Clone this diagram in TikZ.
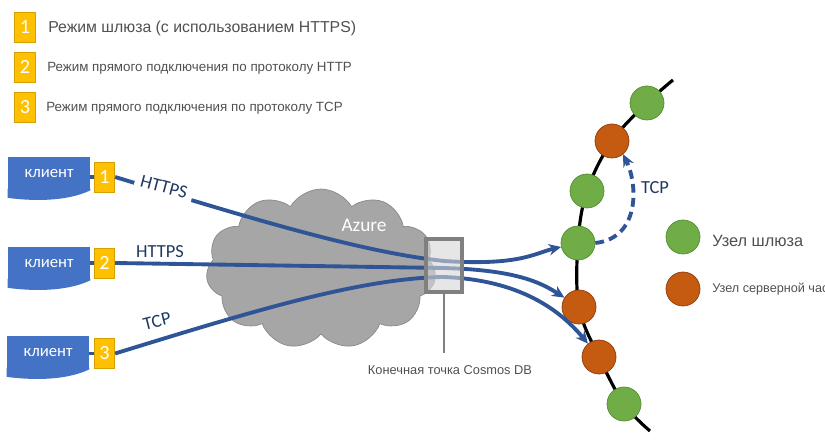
\documentclass[tikz,border=0pt]{standalone}
\usepackage{fontspec}
\setmainfont{Liberation Sans}
\newfontfamily\calibri{Carlito}
\usetikzlibrary{arrows.meta,positioning,shapes.symbols,backgrounds}
\definecolor{mlblue}{RGB}{68,114,196}
\definecolor{mlnavy}{RGB}{47,85,151}
\definecolor{mlink}{RGB}{31,56,100}
\definecolor{mlyellow}{RGB}{255,192,0}
\definecolor{mlyellowdk}{RGB}{214,160,0}
\definecolor{mlgreen}{RGB}{112,173,71}
\definecolor{mlgreendk}{RGB}{84,140,50}
\definecolor{mlrust}{RGB}{197,90,17}
\definecolor{mlrustdk}{RGB}{140,60,12}
\definecolor{mlcloud}{RGB}{166,166,166}
\definecolor{mlclouddk}{RGB}{137,137,137}
\definecolor{mlboxgray}{RGB}{128,128,128}
\definecolor{mllight}{RGB}{214,214,214}
\definecolor{mlgray}{RGB}{80,80,80}

\begin{document}
\begin{tikzpicture}[x=0.02cm,y=-0.02cm,
  numbox/.style={draw=mlyellowdk,fill=mlyellow,minimum width=0.41cm,minimum height=0.6cm,inner sep=0pt,text=white,font=\calibri\fontsize{11.5}{12}\selectfont},
  client/.style={rectangle,fill=mlblue,minimum width=1.64cm,minimum height=0.66cm,inner sep=0pt,text=white,font=\calibri\fontsize{9.5}{10}\selectfont},
  link/.style={draw=mlnavy,line width=2.2pt},
  linkarrow/.style={link,-{Stealth[length=7pt,width=6.5pt]}},
  gnode/.style={circle,fill=mlgreen,draw=mlgreendk,minimum size=0.68cm,inner sep=0pt},
  onode/.style={circle,fill=mlrust,draw=mlrustdk,minimum size=0.68cm,inner sep=0pt},
  proto/.style={font=\calibri\fontsize{10.5}{12}\selectfont,text=mlink},
  legtext/.style={anchor=west,text=mlgray,inner sep=0pt}]
  \useasboundingbox (0,0) rectangle (825,442);
  \clip (0,0) rectangle (825,442);
  % Legend of modes
  \node[numbox] (m1) at (25,27) {1};
  \node[numbox] (m2) at (25,67) {2};
  \node[numbox] (m3) at (25,107) {3};
  \node[legtext,font=\fontsize{9}{11}\selectfont] at (48,28) {Режим шлюза (с использованием HTTPS)};
  \node[legtext,font=\fontsize{7.6}{10}\selectfont] at (47,68) {Режим прямого подключения по протоколу HTTP};
  \node[legtext,font=\fontsize{7.6}{10}\selectfont] at (46,108) {Режим прямого подключения по протоколу TCP};
  % Clients (document shapes)
  \node[client] (c1) at (49,173.5) {клиент};
  \node[client] (c2) at (49,263.5) {клиент};
  \node[client] (c3) at (48,352.5) {клиент};
  \foreach \c in {c1,c2,c3}
    \fill[mlblue] ([yshift=1pt]\c.south east) -- (\c.south east) .. controls +(-25,12) and +(22,3) .. ([yshift=-0.15cm]\c.south west) -- ([yshift=1pt]\c.south west) -- cycle;
  \node[numbox] (n1) at (104.5,177) {1};
  \node[numbox] (n2) at (104.5,263) {2};
  \node[numbox] (n3) at (104.5,353.5) {3};
  \draw[link] (c1.east |- n1) -- (n1.west);
  \draw[link] (c2.east |- n2) -- (n2.west);
  \draw[link] (c3.east |- n3) -- (n3.west);
  % Azure cloud
  \node[cloud,cloud puffs=11,cloud puff arc=120,aspect=1.5,fill=mlcloud,draw=mlclouddk,minimum width=4.6cm,minimum height=3.2cm] (cloud) at (321,269) {};
  \node[font=\calibri\fontsize{11}{12}\selectfont,text=white] (azure) at (364,225) {Azure};
  % Ring of nodes
  \coordinate (rtop) at (673,80);
  \coordinate (rbot) at (650,431);
  \node[gnode] (g1) at (647,103) {};
  \node[onode] (o1) at (612,141) {};
  \node[gnode] (g2) at (587,191) {};
  \node[gnode] (g3) at (578,243) {};
  \node[onode] (o2) at (579,307) {};
  \node[onode] (o3) at (599,357) {};
  \node[gnode] (g4) at (624,404) {};
  \begin{scope}[on background layer]
    \draw[line width=1.8pt] plot[smooth,tension=0.6] coordinates {(rtop) (g1) (o1) (g2) (g3) (o2) (o3) (g4) (rbot)};
  \end{scope}
  % Connections
  \coordinate (ep1) at (444,261);
  \coordinate (ep2) at (444,268);
  \coordinate (ep3) at (444,277);
  \draw[linkarrow] (n1.east) .. controls (250,218) and (360,252) .. (ep1) .. controls (520,266) and (535,253) .. (g3);
  \draw[linkarrow] (n2.east) -- (ep2) .. controls (515,270) and (540,282) .. (o2);
  \draw[linkarrow] (n3.east) .. controls (250,312) and (360,278) .. (ep3) .. controls (520,280) and (560,310) .. (o3);
  \draw[linkarrow,dash pattern=on 5pt off 3pt] (g3.east) .. controls (640,238) and (638,185) .. (o1.-50);
  \node[proto,rotate=-15,fill=white,inner ysep=5pt] (lbl1) at (164,187) {HTTPS};
  \node[proto] (lbl2) at (160,252) {HTTPS};
  \node[proto,rotate=14,fill=white,inner ysep=5pt] (lbl3) at (157,321) {TCP};
  \node[proto] (lbl4) at (655,188) {TCP};
  % Cosmos DB endpoint
  \node[draw=mlboxgray,line width=2pt,fill=mllight,fill opacity=0.6,minimum width=0.72cm,minimum height=1.06cm,inner sep=0pt] (ep) at (444,265.5) {};
  \coordinate (epfoot) at (444,353);
  \draw[mlboxgray,line width=1.7pt] (ep.south) -- (epfoot);
  \node[text=mlgray,font=\fontsize{7.3}{9}\selectfont] (eplabel) at (450,370) {Конечная точка Cosmos DB};
  % Node legend
  \node[gnode] (leggw) at (683,237) {};
  \node[onode] (legbe) at (683,289) {};
  \node[legtext,font=\fontsize{9.3}{11}\selectfont] at (712,241) {Узел шлюза};
  \node[legtext,font=\fontsize{7.2}{9}\selectfont] at (712,289) {Узел серверной части};
\end{tikzpicture}
\end{document}
